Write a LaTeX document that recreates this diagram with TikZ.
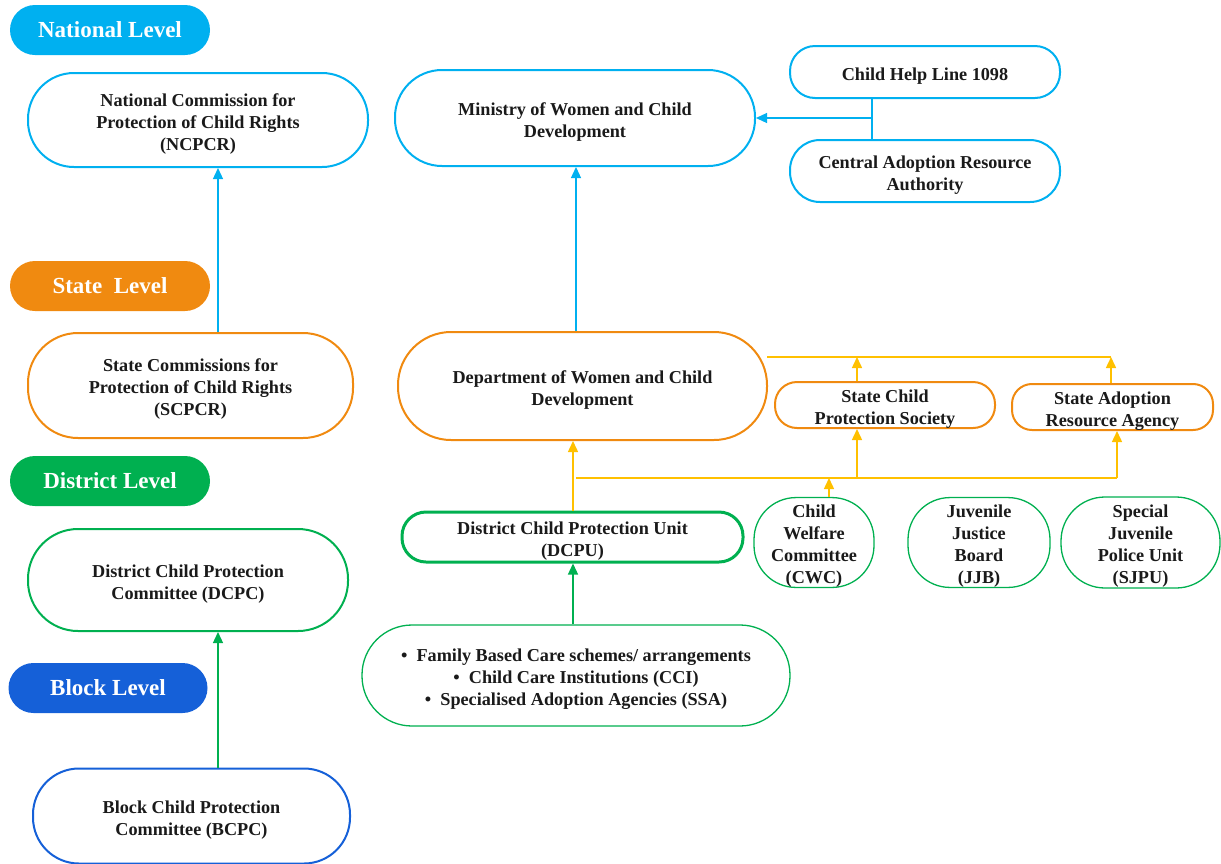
\documentclass[tikz,border=0pt]{standalone}
\usepackage{fontspec}
\setmainfont{Liberation Serif}
\usetikzlibrary{arrows.meta}
\definecolor{cyanc}{HTML}{00B0F0}
\definecolor{orangec}{HTML}{F08A10}
\definecolor{greenc}{HTML}{00B050}
\definecolor{bluec}{HTML}{1560D8}
\definecolor{yelc}{HTML}{FFC000}
\definecolor{txt}{HTML}{1A1A1A}
\newcommand\tp{\rule{0pt}{20pt}}
\tikzset{
  lvl/.style={fill=#1, draw=none, text=white, font=\bfseries\fontsize{23}{26}\selectfont,
    minimum width=200pt, minimum height=50pt, rounded corners=25pt, inner sep=0pt},
  box/.style={draw=#1, line width=2pt, fill=white, text=txt, align=center,
    font=\bfseries\fontsize{18.2}{22}\selectfont, inner sep=0pt},
  thin/.style={draw=#1, line width=1.3pt, fill=white, text=txt, align=center,
    font=\bfseries\fontsize{18.2}{22}\selectfont, inner sep=0pt},
  bline/.style={draw=cyanc, line width=1.3pt},
  gline/.style={draw=greenc, line width=1.3pt},
  yline/.style={draw=yelc, line width=1.5pt},
}
\begin{document}
\begin{tikzpicture}[x=1pt,y=-1pt]
\useasboundingbox (0,0) rectangle (1221,863);
% level labels
\node[lvl=cyanc] (natl) at (110,30) {National Level};
\node[lvl=orangec] (state) at (110,286) {State\ \ Level};
\node[lvl=greenc] (dist) at (110,481) {District Level};
\node[lvl=bluec, minimum width=199pt] (block) at (108,688) {Block Level};
% left column
\node[box=cyanc, minimum width=340pt, minimum height=94pt, rounded corners=46pt] (ncpcr) at (198,120)
  {\tp National Commission for\\Protection of Child Rights\\(NCPCR)};
\node[box=orangec, minimum width=325pt, minimum height=105pt, rounded corners=50pt] (scpcr) at (190.5,385.5)
  {\tp State Commissions for\\Protection of Child Rights\\(SCPCR)};
\node[box=greenc, minimum width=320pt, minimum height=102pt, rounded corners=50pt] (dcpc) at (188,580)
  {\tp District Child Protection\\Committee (DCPC)};
\node[box=bluec, minimum width=317pt, minimum height=95pt, rounded corners=46pt] (bcpc) at (191.5,816)
  {\tp Block Child Protection\\Committee (BCPC)};
% right part
\node[box=cyanc, minimum width=360pt, minimum height=96pt, rounded corners=47pt] (mwcd) at (575,118)
  {\tp Ministry of Women and Child\\Development};
\node[box=cyanc, minimum width=270pt, minimum height=52pt, rounded corners=25pt] (chl) at (925,72)
  {\tp Child Help Line 1098};
\node[box=cyanc, minimum width=270pt, minimum height=62pt, rounded corners=30pt] (cara) at (925,171)
  {\tp Central Adoption Resource\\Authority};
\node[box=orangec, minimum width=369pt, minimum height=108pt, rounded corners=53pt] (dwcd) at (582.5,386)
  {\tp Department of Women and Child\\Development};
\node[box=orangec, minimum width=220pt, minimum height=46pt, rounded corners=22pt] (scps) at (885,405)
  {\tp State Child\\Protection Society};
\node[box=orangec, minimum width=201pt, minimum height=42pt, rounded corners=20pt] (sara) at (1112.5,407)
  {\tp State Adoption\\Resource Agency};
\node[box=greenc, line width=3pt, minimum width=341pt, minimum height=50pt, rounded corners=24pt] (dcpu) at (572.5,537)
  {\tp District Child Protection Unit\\(DCPU)};
\node[thin=greenc, minimum width=120pt, minimum height=87pt, rounded corners=42pt] (cwc) at (814,542.5)
  {\tp Child\\Welfare\\Committee\\(CWC)};
\node[thin=greenc, minimum width=142pt, minimum height=87pt, rounded corners=42pt] (jjb) at (979,542.5)
  {\tp Juvenile\\Justice\\Board\\(JJB)};
\node[thin=greenc, minimum width=159pt, minimum height=91pt, rounded corners=44pt] (sjpu) at (1140.5,542.5)
  {\tp Special\\Juvenile\\Police Unit\\(SJPU)};
\node[thin=greenc, minimum width=428pt, minimum height=101pt, rounded corners=50pt] (bul) at (576,675.5)
  {\tp\textbullet\ \ Family Based Care schemes/ arrangements\\\textbullet\ \ Child Care Institutions (CCI)\\\textbullet\ \ Specialised Adoption Agencies (SSA)};
% blue connectors
\draw[bline, -{Triangle[width=10pt,length=11pt,fill=cyanc]}] ([xshift=27.5pt]scpcr.north) -- ([xshift=27.5pt]scpcr.north |- ncpcr.south);
\draw[bline, -{Triangle[width=10pt,length=11pt,fill=cyanc]}] ([xshift=-6.5pt]dwcd.north) -- ([xshift=-6.5pt]dwcd.north |- mwcd.south);
\coordinate (j) at (872,118);
\draw[bline] (j |- chl.south) -- (j |- cara.north);
\draw[bline, -{Triangle[width=10pt,length=11pt,fill=cyanc]}] (j) -- (j -| mwcd.east);
% green connectors
\draw[gline, -{Triangle[width=10pt,length=11pt,fill=greenc]}] ([xshift=26.5pt]bcpc.north) -- ([xshift=26.5pt]bcpc.north |- dcpc.south);
\draw[gline, -{Triangle[width=10pt,length=11pt,fill=greenc]}] ([xshift=-3pt]bul.north) -- ([xshift=-3pt]bul.north |- dcpu.south);
% yellow connectors
\coordinate (yl) at (576,478);
\coordinate (yr) at (1117,478);
\coordinate (ul) at (767,357);
\coordinate (ur) at (1111,357);
\draw[yline] (yl) -- (yr);
\draw[yline] (ul) -- (ur);
\draw[yline, -{Triangle[width=10pt,length=11pt,fill=yelc]}] ([xshift=0.5pt]dcpu.north) -- ([xshift=0.5pt]dcpu.north |- dwcd.south);
\draw[yline, -{Triangle[width=10pt,length=11pt,fill=yelc]}] ([xshift=15pt]cwc.north) -- ([xshift=15pt]cwc.north |- yl);
\draw[yline, -{Triangle[width=10pt,length=11pt,fill=yelc]}] ([xshift=-28pt]scps.south |- yl) -- ([xshift=-28pt]scps.south);
\draw[yline, -{Triangle[width=10pt,length=11pt,fill=yelc]}] (yr) -- (yr |- sara.south);
\draw[yline, -{Triangle[width=10pt,length=11pt,fill=yelc]}] ([xshift=-28pt]scps.north) -- ([xshift=-28pt]scps.north |- ul);
\draw[yline, -{Triangle[width=10pt,length=11pt,fill=yelc]}] (ur |- sara.north) -- (ur);
\end{tikzpicture}
\end{document}
